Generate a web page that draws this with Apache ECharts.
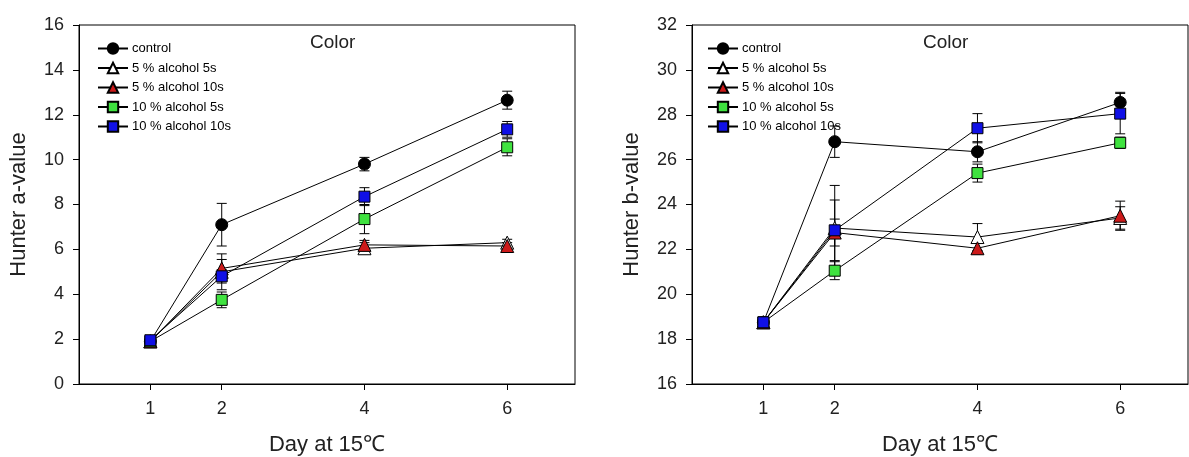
<!DOCTYPE html>
<html>
<head>
<meta charset="utf-8">
<script src="https://cdn.jsdelivr.net/npm/echarts@6/dist/echarts.min.js"></script>
<style>
  html, body { margin: 0; padding: 0; background: #fff; }
  #chart { width: 1189px; height: 457px; }
</style>
</head>
<body>
<div id="chart"></div>
<script>
// Sampling days
const days = [1, 2, 4, 6];
const dayTicks = [1, 2, 4, 6];
const seriesNames = ['control', '5 % alcohol 5s', '5 % alcohol 10s', '10 % alcohol 5s', '10 % alcohol 10s'];

// Hunter a-value: means and error half-widths
const aControl = [1.9, 7.1, 9.8, 12.65];
const aAlc5Sec5 = [1.9, 5.0, 6.05, 6.3];
const aAlc5Sec10 = [1.9, 5.15, 6.2, 6.15];
const aAlc10Sec5 = [1.9, 3.75, 7.35, 10.55];
const aAlc10Sec10 = [1.95, 4.8, 8.35, 11.35];
const aControlErr = [0.1, 0.95, 0.3, 0.4];
const aAlc5Sec5Err = [0.1, 0.8, 0.25, 0.15];
const aAlc5Sec10Err = [0.1, 0.4, 0.2, 0.15];
const aAlc10Sec5Err = [0.1, 0.35, 0.65, 0.38];
const aAlc10Sec10Err = [0.1, 0.3, 0.4, 0.35];

// Hunter b-value: means and error half-widths
const bControl = [18.75, 26.8, 26.35, 28.55];
const bAlc5Sec5 = [18.75, 22.95, 22.55, 23.4];
const bAlc5Sec10 = [18.75, 22.75, 22.05, 23.5];
const bAlc10Sec5 = [18.75, 21.05, 25.4, 26.75];
const bAlc10Sec10 = [18.75, 22.85, 27.4, 28.05];
const bControlErr = [0.1, 0.7, 0.45, 0.45];
const bAlc5Sec5Err = [0.1, 1.9, 0.6, 0.5];
const bAlc5Sec10Err = [0.1, 0.6, 0.25, 0.65];
const bAlc10Sec5Err = [0.1, 0.4, 0.4, 0.25];
const bAlc10Sec10Err = [0.1, 1.35, 0.65, 0.9];

const markerStyles = [
  { symbol: 'circle', size: 12, fill: '#000000' },
  { symbol: 'triangle', size: 13, fill: '#ffffff' },
  { symbol: 'triangle', size: 13, fill: '#cc1a1a' },
  { symbol: 'rect', size: 11, fill: '#3fe23f' },
  { symbol: 'rect', size: 11, fill: '#1010e6' }
];

const aMeans = [aControl, aAlc5Sec5, aAlc5Sec10, aAlc10Sec5, aAlc10Sec10];
const aErrs = [aControlErr, aAlc5Sec5Err, aAlc5Sec10Err, aAlc10Sec5Err, aAlc10Sec10Err];
const bMeans = [bControl, bAlc5Sec5, bAlc5Sec10, bAlc10Sec5, bAlc10Sec10];
const bErrs = [bControlErr, bAlc5Sec5Err, bAlc5Sec10Err, bAlc10Sec5Err, bAlc10Sec10Err];

const FONT = 'Liberation Sans, Arial, sans-serif';

function errorBars(axisIndex, means, errs) {
  return {
    type: 'custom',
    xAxisIndex: axisIndex,
    yAxisIndex: axisIndex,
    z: 1,
    silent: true,
    encode: { x: 0, y: [1, 2] },
    data: days.map((d, i) => [d, means[i] - errs[i], means[i] + errs[i]]),
    renderItem: function (params, api) {
      const lo = api.coord([api.value(0), api.value(1)]);
      const hi = api.coord([api.value(0), api.value(2)]);
      const hw = 5;
      const style = { stroke: '#000', lineWidth: 1 };
      return {
        type: 'group',
        children: [
          { type: 'line', shape: { x1: lo[0], y1: lo[1], x2: hi[0], y2: hi[1] }, style },
          { type: 'line', shape: { x1: hi[0] - hw, y1: hi[1], x2: hi[0] + hw, y2: hi[1] }, style },
          { type: 'line', shape: { x1: lo[0] - hw, y1: lo[1], x2: lo[0] + hw, y2: lo[1] }, style }
        ]
      };
    }
  };
}

function lineSeries(axisIndex, name, values, k) {
  const m = markerStyles[k];
  return {
    type: 'line',
    name: name,
    xAxisIndex: axisIndex,
    yAxisIndex: axisIndex,
    z: 2 + k * 0.01,
    symbol: m.symbol,
    symbolSize: m.size,
    showAllSymbol: true,
    animation: false,
    lineStyle: { color: '#000', width: 1 },
    itemStyle: { color: m.fill, borderColor: '#000', borderWidth: 1 },
    emphasis: { disabled: true },
    data: days.map((d, i) => [d, values[i]])
  };
}

const series = [];
[[0, aMeans, aErrs], [1, bMeans, bErrs]].forEach(([ax, means, errs]) => {
  means.forEach((vals, k) => series.push(errorBars(ax, vals, errs[k])));
  means.forEach((vals, k) => series.push(lineSeries(ax, seriesNames[k], vals, k)));
});

function xAxis(gridIndex) {
  return {
    type: 'value',
    gridIndex: gridIndex,
    min: 0,
    max: 6.95,
    name: 'Day at 15\u2103',
    nameLocation: 'middle',
    nameGap: 50,
    nameTextStyle: { fontFamily: FONT, fontSize: 22, color: '#222' },
    splitLine: { show: false },
    axisLine: { show: true, onZero: false, lineStyle: { color: '#000', width: 1 } },
    axisTick: { show: true, inside: false, length: 6, customValues: dayTicks, lineStyle: { color: '#000' } },
    axisLabel: { customValues: dayTicks, margin: 16, fontFamily: FONT, fontSize: 18, color: '#222' }
  };
}

function yAxis(gridIndex, min, max, name) {
  return {
    type: 'value',
    gridIndex: gridIndex,
    min: min,
    max: max,
    interval: 2,
    name: name,
    nameLocation: 'middle',
    nameGap: 49,
    nameRotate: 90,
    nameTextStyle: { fontFamily: FONT, fontSize: 22, color: '#222' },
    splitLine: { show: false },
    axisLine: { show: true, onZero: false, lineStyle: { color: '#000', width: 1 } },
    axisTick: { show: true, inside: false, length: 6, lineStyle: { color: '#000' } },
    axisLabel: { margin: 15, fontFamily: FONT, fontSize: 18, color: '#222' }
  };
}

function legend(left) {
  return {
    data: seriesNames,
    orient: 'vertical',
    left: left,
    top: 37,
    itemWidth: 30,
    itemHeight: 13,
    itemGap: 6.5,
    selectedMode: false,
    textStyle: { fontFamily: FONT, fontSize: 13, color: '#000', padding: [0, 0, 0, -1] }
  };
}

const chart = echarts.init(document.getElementById('chart'), null, { renderer: 'canvas' });
chart.setOption({
  animation: false,
  backgroundColor: '#ffffff',
  title: [
    { text: 'Color', left: 305, top: 28, textStyle: { fontFamily: FONT, fontSize: 19, fontWeight: 'normal', color: '#222' } },
    { text: 'Color', left: 918, top: 28, textStyle: { fontFamily: FONT, fontSize: 19, fontWeight: 'normal', color: '#222' } }
  ],
  legend: [legend(92), legend(702)],
  grid: [
    { left: 79, top: 25, width: 496, height: 359, show: true, borderColor: '#000', borderWidth: 1, backgroundColor: 'transparent', containLabel: false, outerBoundsMode: 'none' },
    { left: 692, top: 25, width: 496, height: 359, show: true, borderColor: '#000', borderWidth: 1, backgroundColor: 'transparent', containLabel: false, outerBoundsMode: 'none' }
  ],
  xAxis: [xAxis(0), xAxis(1)],
  yAxis: [yAxis(0, 0, 16, 'Hunter a-value'), yAxis(1, 16, 32, 'Hunter b-value')],
  series: series
});
</script>
</body>
</html>
